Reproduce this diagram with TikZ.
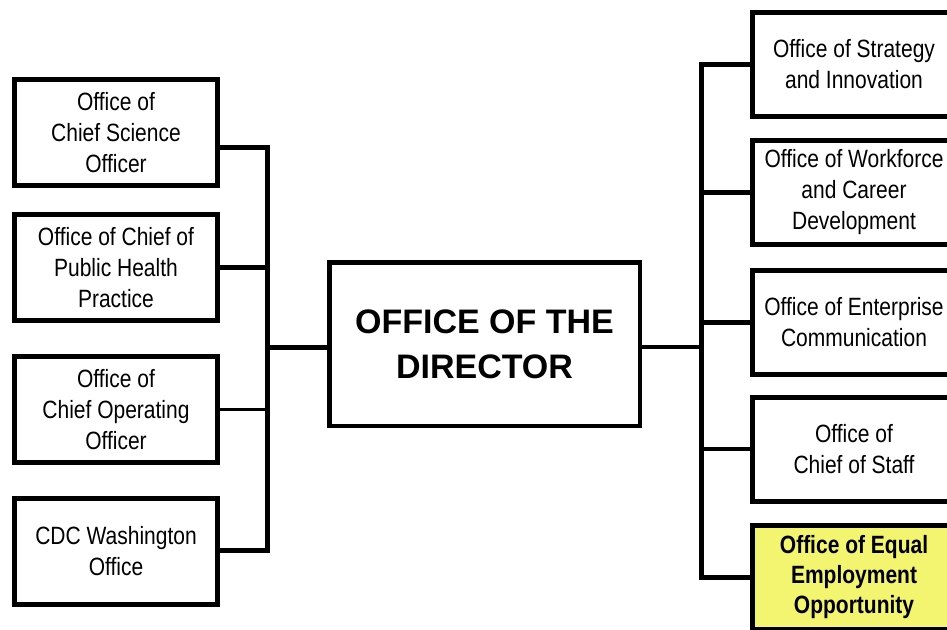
\documentclass[tikz,border=0pt]{standalone}
\usepackage{fontspec}
\setmainfont{Liberation Sans}
\newfontfamily\boxfont{Liberation Sans}[FakeStretch=0.84]
\usetikzlibrary{calc}
\definecolor{eeoyellow}{RGB}{243,245,112}
\begin{document}
\begin{tikzpicture}[x=1pt,y=-1pt,
  unit/.style={draw=black, line width=5pt, fill=white, minimum width=203pt,
    minimum height=106pt, inner sep=0pt, align=center,
    font=\boxfont\fontsize{25}{31}\selectfont},
  runit/.style={unit, minimum height=104pt},
  director/.style={draw=black, line width=4.5pt, fill=white, minimum width=310.5pt,
    minimum height=163.5pt, inner sep=0pt, align=center,
    font=\bfseries\fontsize{34}{45}\selectfont},
  link/.style={line width=5pt},
  thinlink/.style={line width=3.5pt}]
\useasboundingbox (0,0) rectangle (947,629);
\clip (0,0) rectangle (947,629);
\fill[white] (0,0) rectangle (947,629);

% left column
\node[unit] (L1) at (116,132.5) {Office of\\Chief Science\\Officer};
\node[unit] (L2) at (116,267.5) {Office of Chief of\\Public Health\\Practice};
\node[unit] (L3) at (116,409.5) {Office of\\Chief Operating\\Officer};
\node[unit] (L4) at (116,551) {CDC Washington\\Office};

% director
\node[director] (D) at (484.5,344) {OFFICE OF THE\\DIRECTOR};

% right column
\node[runit] (R1) at (854,64) {Office of Strategy\\and Innovation};
\node[runit] (R2) at (854,192.5) {Office of Workforce\\and Career\\Development};
\node[runit] (R3) at (854,322) {Office of Enterprise\\Communication};
\node[runit] (R4) at (854,449) {Office of\\Chief of Staff};
\node[runit, fill=eeoyellow, font=\boxfont\bfseries\fontsize{25}{30}\selectfont] (R5) at (854,577) {Office of Equal\\Employment\\Opportunity};

% bus coordinates
\coordinate (lb) at (267,347);
\coordinate (rb) at (701,347);
\coordinate (L1c) at ($(L1.east)+(0,14.5)$);
\coordinate (L4c) at ($(L4.east)+(0,-1)$);

% left connectors
\draw[link] (L1c) -| (lb) |- (L4c);
\draw[link] (L2.east) -- (L2.east -| lb);
\draw[thinlink] (L3.east) -- (L3.east -| lb);
\draw[link] (lb) -- (lb -| D.west);

% right connectors
\draw[thinlink] (D.east |- rb) -- (rb);
\draw[link] (R1.west) -| (rb) |- (R5.west);
\draw[link] (R2.west) -- (R2.west -| rb);
\draw[link] (R3.west) -- (R3.west -| rb);
\draw[thinlink] (R4.west) -- (R4.west -| rb);
\end{tikzpicture}
\end{document}
